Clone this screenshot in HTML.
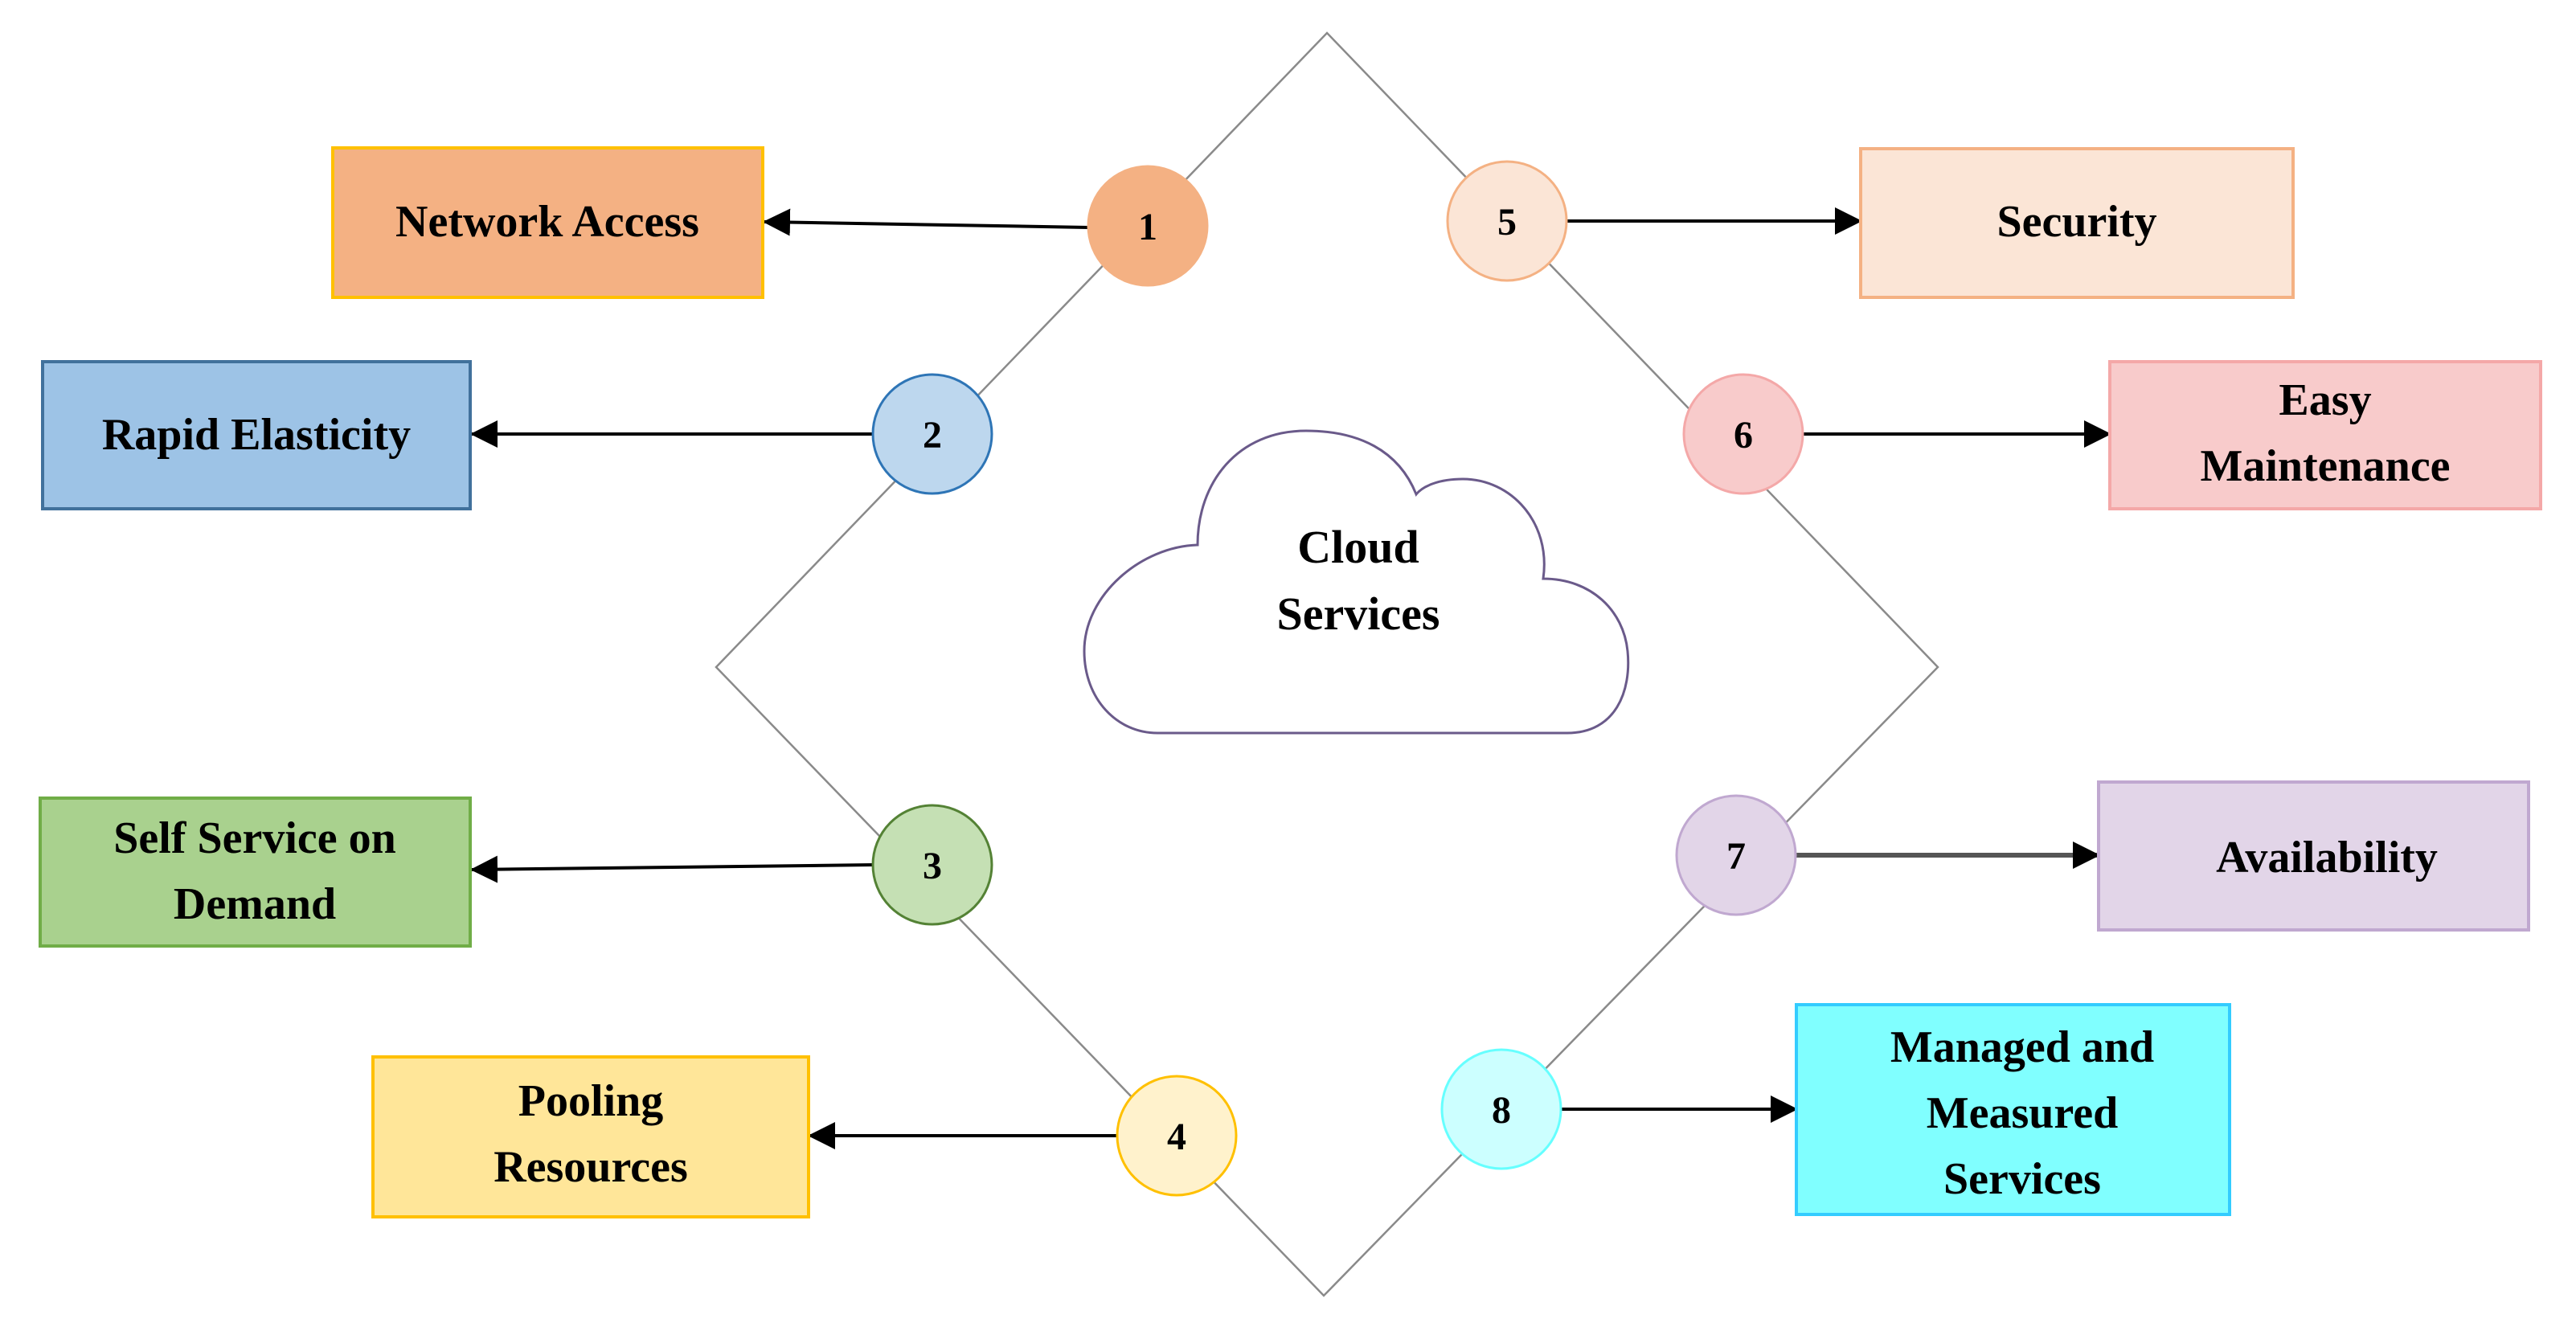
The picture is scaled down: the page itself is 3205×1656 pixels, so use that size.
<!DOCTYPE html>
<html><head><meta charset="utf-8"><style>
html,body{margin:0;padding:0;background:#fff;}
svg{display:block;}
text{font-family:"Liberation Serif",serif;font-weight:bold;fill:#000;}
</style></head><body>
<svg width="3205" height="1656" viewBox="0 0 3205 1656" xmlns="http://www.w3.org/2000/svg">
<defs>
<marker id="ah" markerWidth="34" markerHeight="34" refX="32" refY="17" orient="auto" markerUnits="userSpaceOnUse" viewBox="0 0 34 34">
<path d="M0,0 L34,17 L0,34 Z" fill="#000"/>
</marker>
</defs>
<polygon points="1651,41 2411,830 1647,1612 891,830" fill="none" stroke="#8a8a8a" stroke-width="2.5"/>
<path d="M1440,912 L1950,912 C2010,912 2030,860 2025,810 C2020,760 1980,720 1920,720 C1930,650 1880,596 1820,596 C1790,596 1770,605 1762,615 C1740,560 1690,536 1625,536 C1540,536 1490,600 1490,678 C1420,680 1349,740 1349,810 C1349,870 1390,912 1440,912 Z" fill="#fff" stroke="#6a5a8a" stroke-width="3"/>
<text x="1690" y="700" font-size="58" text-anchor="middle">Cloud</text>
<text x="1690" y="783" font-size="58" text-anchor="middle">Services</text>

<g stroke="#000" stroke-width="4" fill="none">
<line x1="1354" y1="283" x2="951" y2="276" marker-end="url(#ah)"/>
<line x1="1086" y1="540" x2="587" y2="540" marker-end="url(#ah)"/>
<line x1="1086" y1="1076" x2="587" y2="1082" marker-end="url(#ah)"/>
<line x1="1390" y1="1413" x2="1007" y2="1413" marker-end="url(#ah)"/>
<line x1="1949" y1="275" x2="2315" y2="275" marker-end="url(#ah)"/>
<line x1="2243" y1="540" x2="2625" y2="540" marker-end="url(#ah)"/>
<line x1="2232" y1="1064" x2="2611" y2="1064" stroke="#555" stroke-width="6" marker-end="url(#ah)"/>
<line x1="1942" y1="1380" x2="2235" y2="1380" marker-end="url(#ah)"/>
</g>

<rect x="414" y="184" width="535" height="186" fill="#f4b183" stroke="#ffc000" stroke-width="4"/>
<text x="681" y="294" font-size="56" text-anchor="middle">Network Access</text>
<rect x="53" y="450" width="532" height="183" fill="#9dc3e6" stroke="#41719c" stroke-width="4"/>
<text x="319" y="559" font-size="56" text-anchor="middle">Rapid Elasticity</text>
<rect x="50" y="993" width="535" height="184" fill="#a9d18e" stroke="#70ad47" stroke-width="4"/>
<text x="317" y="1061" font-size="56" text-anchor="middle">Self Service on</text>
<text x="317" y="1143" font-size="56" text-anchor="middle">Demand</text>
<rect x="464" y="1315" width="542" height="199" fill="#ffe699" stroke="#ffc000" stroke-width="4"/>
<text x="735" y="1388" font-size="56" text-anchor="middle">Pooling</text>
<text x="735" y="1470" font-size="56" text-anchor="middle">Resources</text>
<rect x="2315" y="185" width="538" height="185" fill="#fbe5d6" stroke="#f4b183" stroke-width="4"/>
<text x="2584" y="294" font-size="56" text-anchor="middle">Security</text>
<rect x="2625" y="450" width="536" height="183" fill="#f8cbcb" stroke="#f4a8a8" stroke-width="4"/>
<text x="2893" y="516" font-size="56" text-anchor="middle">Easy</text>
<text x="2893" y="598" font-size="56" text-anchor="middle">Maintenance</text>
<rect x="2611" y="973" width="535" height="184" fill="#e2d5e8" stroke="#c0a8d0" stroke-width="4"/>
<text x="2895" y="1085" font-size="56" text-anchor="middle">Availability</text>
<rect x="2235" y="1250" width="539" height="261" fill="#80ffff" stroke="#33ccff" stroke-width="4"/>
<text x="2516" y="1321" font-size="56" text-anchor="middle">Managed and</text>
<text x="2516" y="1403" font-size="56" text-anchor="middle">Measured</text>
<text x="2516" y="1485" font-size="56" text-anchor="middle">Services</text>

<g stroke-width="3">
<circle cx="1428" cy="281" r="74" fill="#f4b183" stroke="#f4b183"/>
<circle cx="1160" cy="540" r="74" fill="#bdd7ee" stroke="#2e75b6"/>
<circle cx="1160" cy="1076" r="74" fill="#c5e0b4" stroke="#548235"/>
<circle cx="1464" cy="1413" r="74" fill="#fff2cc" stroke="#ffc000"/>
<circle cx="1875" cy="275" r="74" fill="#fbe5d6" stroke="#f4b183"/>
<circle cx="2169" cy="540" r="74" fill="#f8cbcb" stroke="#f4a8a8"/>
<circle cx="2160" cy="1064" r="74" fill="#e2d5e8" stroke="#c0a8d0"/>
<circle cx="1868" cy="1380" r="74" fill="#ccffff" stroke="#66ffff"/>
</g>
<g font-size="48" text-anchor="middle">
<text x="1428" y="298">1</text>
<text x="1160" y="557">2</text>
<text x="1160" y="1093">3</text>
<text x="1464" y="1430">4</text>
<text x="1875" y="292">5</text>
<text x="2169" y="557">6</text>
<text x="2160" y="1081">7</text>
<text x="1868" y="1397">8</text>
</g>
</svg>
</body></html>
